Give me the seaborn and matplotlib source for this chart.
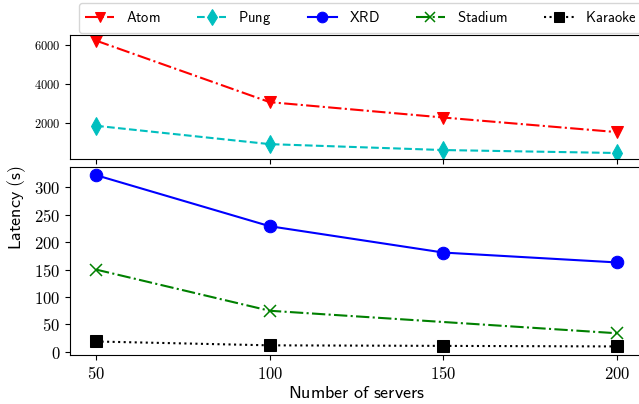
import matplotlib
matplotlib.use("Agg")
import matplotlib.pyplot as plt
from matplotlib.ticker import FuncFormatter
import seaborn as sns

# data
servers = [50, 100, 150, 200]
atom = [6200, 3080, 2300, 1560]
pung = [1880, 950, 650, 500]
xrd = [322, 229, 181, 163]
stadium_servers = [50, 100, 200]
stadium = [150, 75, 34]
karaoke = [19, 12, 11, 10]
names = ['Atom', 'Pung', 'XRD', 'Stadium', 'Karaoke']

# Computer Modern look through mathtext
plt.rcParams['mathtext.fontset'] = 'cm'
cm_num = FuncFormatter(lambda v, pos: r'$%g$' % v)


def sf(s):
    return r'$\mathsf{' + s.replace(' ', r'\ ') + '}$'


fig = plt.figure(figsize=(6.39, 4.04), dpi=100)
gs = fig.add_gridspec(2, 1, height_ratios=[124, 189], hspace=0.051,
                      left=70/639, right=643/639, top=1-35/404, bottom=1-355/404)
ax_top = fig.add_subplot(gs[0])
ax_bot = fig.add_subplot(gs[1], sharex=ax_top)

ms = 9
sns.lineplot(x=servers, y=atom, ax=ax_top, color='r', linestyle='-.', marker='v',
             markersize=ms, markeredgecolor='r', legend=False)
sns.lineplot(x=servers, y=pung, ax=ax_top, color='c', linestyle='--', marker='d',
             markersize=ms, markeredgecolor='c', legend=False)
sns.lineplot(x=servers, y=xrd, ax=ax_bot, color='b', linestyle='-', marker='o',
             markersize=ms, markeredgecolor='b', legend=False)
sns.lineplot(x=stadium_servers, y=stadium, ax=ax_bot, color='g', linestyle='-.', marker='x',
             markersize=ms, markeredgecolor='g', markeredgewidth=1.1, legend=False)
sns.lineplot(x=servers, y=karaoke, ax=ax_bot, color='k', linestyle=':', marker='s',
             markersize=ms, markeredgecolor='k', legend=False)

ax_top.set_yticks([2000, 4000, 6000])
ax_bot.set_yticks([0, 50, 100, 150, 200, 250, 300])
ax_bot.set_xticks(servers)
ax_top.tick_params(axis='x', labelbottom=False)
ax_top.yaxis.set_major_formatter(cm_num)
ax_bot.yaxis.set_major_formatter(cm_num)
ax_bot.xaxis.set_major_formatter(cm_num)

ax_top.tick_params(axis='y', labelsize=9)
ax_bot.tick_params(axis='both', labelsize=12)

ax_bot.set_xlabel(sf('Number of servers'), fontsize=13, labelpad=1)
ax_bot.set_ylabel('')
ax_top.set_ylabel('')
ax_top.set_xlabel('')
fig.text(17/639, 1-207/404, sf('Latency (s)'), rotation=90, ha='center', va='center',
         fontsize=13)

handles = ax_top.get_lines() + ax_bot.get_lines()
fig.legend(handles, [sf(n) for n in names], loc='upper center', ncol=5,
           bbox_to_anchor=(361/639, 1.0), prop={'size': 10.5}, markerscale=0.85,
           columnspacing=2.5, borderaxespad=0.2, handlelength=2.0)

fig.savefig('out.png', dpi=100)
